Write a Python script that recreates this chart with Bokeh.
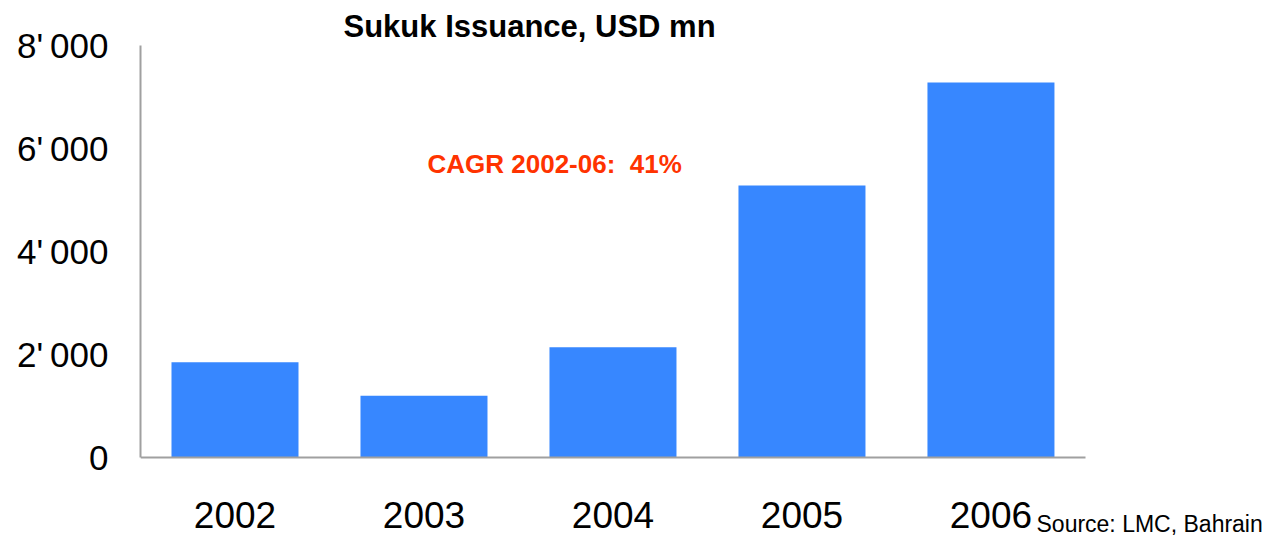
from bokeh.plotting import figure
from bokeh.models import Range1d, FixedTicker, Label
from bokeh.embed import file_html
from bokeh.resources import INLINE

years = ["2002", "2003", "2004", "2005", "2006"]
issuance = [1850, 1200, 2140, 5280, 7280]
y_ticks = [0, 2000, 4000, 6000, 8000]
y_tick_labels = ["0", "2'\u2009000", "4'\u2009000", "6'\u2009000", "8'\u2009000"]
title_text = "Sukuk Issuance, USD mn"
note_text = "CAGR 2002-06:\u00a0 41%"
source_text = "Source: LMC, Bahrain"

FONT = "Liberation Sans"
BAR = "#3787FF"
AXIS = "#A0A0A0"

xpos = list(range(len(years)))

p = figure(width=1273, height=535, output_backend="svg", toolbar_location=None,
           x_range=Range1d(-0.5, 5.495),
           y_range=Range1d(-1515, 8000),
           min_border_left=140, min_border_right=0, min_border_top=45, min_border_bottom=0)
p.outline_line_color = None
p.grid.grid_line_color = None
p.background_fill_color = "white"
p.border_fill_color = "white"

p.title.text = title_text
p.title.text_font = FONT
p.title.text_font_size = "31px"
p.title.text_font_style = "bold"
p.title.text_color = "black"
p.title.align = "left"
p.title.offset = 203
p.title.standoff = 4

p.vbar(x=xpos, top=issuance, width=0.672, fill_color=BAR, line_color=None)

p.xaxis.fixed_location = 0
p.xaxis.ticker = FixedTicker(ticks=xpos)
p.xaxis.major_label_overrides = {i: y for i, y in zip(xpos, years)}
p.xaxis.bounds = (-0.5, len(years) - 0.5)
p.yaxis.ticker = FixedTicker(ticks=y_ticks)
p.yaxis.major_label_overrides = {t: l for t, l in zip(y_ticks, y_tick_labels)}
p.yaxis.bounds = (0, 8000)
for ax in (p.xaxis[0], p.yaxis[0]):
    ax.axis_line_color = AXIS
    ax.axis_line_width = 2
    ax.major_tick_line_color = None
    ax.minor_tick_line_color = None
    ax.major_tick_out = 0
    ax.major_tick_in = 0
    ax.major_label_text_font = FONT
    ax.major_label_text_color = "black"
p.yaxis.major_label_text_font_size = "35px"
p.yaxis.major_label_standoff = 32
p.xaxis.major_label_text_font_size = "37px"
p.xaxis.major_label_standoff = 45

p.add_layout(Label(x=287, y=372, x_units="screen", y_units="screen", text=note_text,
                   text_font=FONT, text_font_size="26px", text_font_style="bold",
                   text_color="#FF3300", text_baseline="middle", text_align="left"))
p.add_layout(Label(x=896, y=12, x_units="screen", y_units="screen", text=source_text,
                   text_font=FONT, text_font_size="23px",
                   text_color="black", text_baseline="middle", text_align="left"))

open("out.html", "w").write(file_html(p, INLINE))
